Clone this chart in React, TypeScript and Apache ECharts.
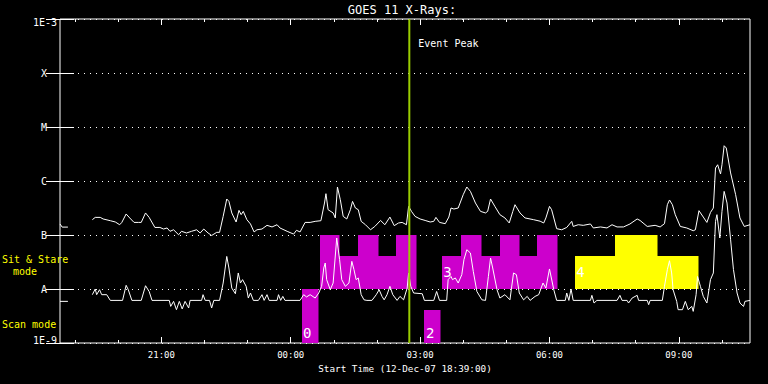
import React, { useEffect, useRef } from "react";
import * as echarts from "echarts";

const TITLE = "GOES 11 X-Rays:";
const X_NAME = "Start Time (12-Dec-07 18:39:00)";
const EVENT_LABEL = "Event Peak";
const yTickLabels = ["1E-9", "A", "B", "C", "M", "X", "1E-3"];
// minutes after 18:39
const majorTickMinutes = [141, 321, 501, 681, 861];
const majorTickLabels = ["21:00", "00:00", "03:00", "06:00", "09:00"];
const minorTickMinutes = [21, 81, 201, 261, 381, 441, 561, 621, 741, 801, 921];
const eventPeakMinute = 486;

const longStart = [[0, 1.6e-7], [3, 1.4e-7], [11, 1.4e-7]];
const longMain = [
  [45, 1.92e-7], [49, 2.12e-7], [56, 2.12e-7], [60, 1.98e-7], [70, 1.84e-7], [77, 1.74e-7], [83, 1.55e-7], [86, 1.71e-7],
  [92, 2.45e-7], [97, 2.07e-7], [103, 1.71e-7], [109, 1.71e-7], [113, 1.71e-7], [119, 2.56e-7], [124, 2.12e-7], [132, 1.38e-7],
  [139, 1.38e-7], [144, 1.29e-7], [149, 1.35e-7], [153, 1.17e-7], [158, 1.25e-7], [165, 1.01e-7], [169, 1.17e-7], [176, 1.09e-7],
  [183, 1.17e-7], [190, 1.25e-7], [195, 1.09e-7], [200, 1.29e-7], [206, 1.09e-7], [211, 9.8e-8], [218, 1.12e-7], [222, 1.12e-7],
  [227, 2.21e-7], [232, 4.64e-7], [235, 4.19e-7], [239, 2.56e-7], [245, 1.74e-7], [249, 2.86e-7], [252, 2.38e-7], [255, 2.74e-7],
  [260, 1.92e-7], [265, 1.6e-7], [270, 1.14e-7], [274, 1.25e-7], [281, 1.29e-7], [288, 1.51e-7], [295, 1.41e-7], [302, 1.55e-7],
  [306, 1.35e-7], [316, 1.17e-7], [325, 1.04e-7], [329, 1.22e-7], [334, 1.14e-7], [341, 1.71e-7], [348, 1.71e-7], [355, 1.79e-7],
  [363, 1.84e-7], [368, 3.91e-7], [370, 5.82e-7], [373, 2.94e-7], [380, 2.56e-7], [383, 2.07e-7], [386, 7.74e-7], [390, 4.5e-7],
  [394, 2.21e-7], [399, 1.98e-7], [404, 2.94e-7], [407, 4.19e-7], [411, 3.16e-7], [415, 2.94e-7], [419, 1.79e-7], [425, 1.55e-7],
  [432, 1.25e-7], [438, 1.44e-7], [446, 1.86e-7], [452, 1.55e-7], [459, 2.15e-7], [465, 1.49e-7], [471, 1.67e-7], [476, 1.71e-7],
  [482, 1.55e-7], [485, 3.39e-7], [489, 2.74e-7], [494, 2.21e-7], [501, 1.98e-7], [508, 1.86e-7], [515, 1.74e-7], [520, 1.79e-7],
  [523, 2.12e-7], [528, 1.71e-7], [536, 1.62e-7], [541, 2.15e-7], [544, 3.16e-7], [548, 3.03e-7], [554, 3.16e-7], [561, 5.58e-7],
  [566, 7.74e-7], [571, 6.42e-7], [578, 3.91e-7], [585, 2.74e-7], [592, 2.56e-7], [595, 2.74e-7], [599, 4.64e-7], [605, 3.39e-7],
  [612, 2.38e-7], [619, 2.07e-7], [625, 1.67e-7], [630, 2.74e-7], [633, 3.64e-7], [640, 2.56e-7], [647, 2.07e-7], [659, 1.92e-7],
  [668, 1.8e-7], [673, 1.67e-7], [676, 2.07e-7], [681, 3.39e-7], [684, 2.94e-7], [691, 1.31e-7], [698, 1.25e-7], [705, 1.38e-7],
  [712, 1.79e-7], [714, 1.44e-7], [721, 1.55e-7], [728, 1.51e-7], [738, 1.6e-7], [742, 1.35e-7], [752, 1.41e-7], [761, 1.35e-7],
  [768, 1.55e-7], [775, 1.41e-7], [784, 1.41e-7], [793, 1.6e-7], [803, 1.98e-7], [807, 1.86e-7], [817, 1.44e-7], [828, 1.51e-7],
  [835, 1.41e-7], [841, 1.62e-7], [845, 3.64e-7], [848, 4.45e-7], [852, 3.64e-7], [856, 2.38e-7], [863, 1.44e-7], [872, 1.35e-7],
  [881, 1.2e-7], [884, 1.25e-7], [889, 2.82e-7], [895, 2.15e-7], [900, 1.71e-7], [905, 2.62e-7], [909, 3.16e-7], [912, 1.74e-6],
  [915, 2.0e-6], [919, 1.35e-6], [921, 2.0e-6], [924, 4.5e-6], [927, 4.08e-6], [933, 1.41e-6], [940, 5.58e-7], [946, 2.07e-7],
  [952, 1.44e-7], [960, 1.55e-7],
];

const shortStart = [[0, 5.9e-9], [11, 5.9e-9]];
const shortMain = [
  [45, 7.85e-9], [49, 1.0e-8], [51, 7.85e-9], [55, 9.7e-9], [58, 7.85e-9], [65, 7.85e-9], [70, 6.15e-9], [87, 6.15e-9],
  [92, 1.17e-8], [95, 9.7e-9], [100, 6.15e-9], [113, 6.15e-9], [119, 1.15e-8], [124, 9.0e-9], [128, 6.15e-9], [152, 6.15e-9],
  [154, 4.76e-9], [158, 5.9e-9], [162, 4.14e-9], [166, 5.9e-9], [170, 4.27e-9], [174, 5.9e-9], [179, 4.45e-9], [181, 6.15e-9],
  [197, 6.15e-9], [199, 7.85e-9], [202, 6.15e-9], [208, 6.15e-9], [211, 4.45e-9], [214, 6.15e-9], [222, 6.15e-9], [227, 1.29e-8],
  [232, 4.01e-8], [235, 2.45e-8], [239, 1.04e-8], [244, 8.17e-9], [248, 1.98e-8], [251, 1.29e-8], [254, 1.49e-8], [259, 1.12e-8],
  [262, 6.8e-9], [265, 8.43e-9], [269, 6.15e-9], [276, 6.15e-9], [281, 7.85e-9], [284, 6.15e-9], [288, 7.85e-9], [291, 6.15e-9],
  [302, 6.15e-9], [304, 7.85e-9], [307, 6.15e-9], [310, 7.3e-9], [313, 6.15e-9], [334, 6.15e-9], [339, 7.85e-9], [343, 7.13e-9],
  [348, 7.85e-9], [355, 6.8e-9], [360, 8.43e-9], [364, 1.12e-8], [367, 2.45e-8], [369, 3.03e-8], [371, 1.49e-8], [376, 9.7e-9],
  [380, 1.29e-8], [385, 8.8e-8], [389, 3.49e-8], [392, 1.49e-8], [397, 1.12e-8], [402, 1.29e-8], [406, 3.25e-8], [409, 2.28e-8],
  [412, 1.49e-8], [415, 1.6e-8], [419, 7.85e-9], [423, 6.3e-9], [427, 6.15e-9], [434, 6.15e-9], [440, 7.85e-9], [444, 9.7e-9],
  [448, 7.3e-9], [451, 6.3e-9], [455, 7.85e-9], [459, 1.12e-8], [463, 7.85e-9], [469, 6.15e-9], [473, 7.3e-9], [478, 6.3e-9],
  [483, 1.04e-8], [485, 1.98e-8], [488, 1.12e-8], [492, 8.43e-9], [504, 8.17e-9], [507, 6.15e-9], [520, 6.15e-9], [524, 9.0e-9],
  [528, 6.15e-9], [538, 6.15e-9], [540, 1.49e-8], [544, 1.71e-8], [546, 1.49e-8], [550, 1.6e-8], [554, 1.29e-8], [559, 1.84e-8],
  [562, 3.49e-8], [566, 5.34e-8], [571, 4.64e-8], [575, 2.12e-8], [580, 9.0e-9], [587, 6.3e-9], [592, 6.15e-9], [596, 1.71e-8],
  [599, 3.75e-8], [602, 2.45e-8], [608, 9.7e-9], [612, 6.8e-9], [619, 7.85e-9], [626, 6.3e-9], [631, 1.98e-8], [635, 1.84e-8],
  [639, 8.43e-9], [645, 6.3e-9], [650, 7.3e-9], [654, 6.15e-9], [661, 7.3e-9], [666, 7.85e-9], [672, 1.29e-8], [676, 1.04e-8],
  [681, 2.35e-8], [687, 9.7e-9], [691, 6.15e-9], [703, 6.15e-9], [705, 8.43e-9], [708, 6.15e-9], [711, 1.0e-8], [714, 6.15e-9],
  [738, 6.15e-9], [740, 7.63e-9], [743, 5.5e-9], [747, 6.15e-9], [775, 6.15e-9], [779, 7.63e-9], [782, 6.15e-9], [789, 6.15e-9],
  [791, 5.5e-9], [796, 6.8e-9], [803, 7.63e-9], [805, 6.15e-9], [817, 6.15e-9], [819, 5.12e-9], [821, 6.15e-9], [838, 6.15e-9],
  [841, 1.12e-8], [845, 2.28e-8], [848, 3.34e-8], [851, 1.98e-8], [853, 9.7e-9], [858, 5.9e-9], [860, 4.14e-9], [866, 4.14e-9],
  [870, 5.9e-9], [874, 4.14e-9], [879, 4.76e-9], [881, 3.85e-9], [885, 7.85e-9], [887, 1.71e-8], [891, 1.12e-8], [895, 7.3e-9],
  [900, 5.5e-9], [905, 1.49e-8], [909, 1.98e-8], [912, 1.79e-7], [914, 2.38e-7], [918, 8.8e-8], [921, 2.74e-7], [924, 6.42e-7],
  [928, 3.91e-7], [933, 8.17e-8], [937, 2.28e-8], [942, 8.43e-9], [946, 5.5e-9], [951, 4.76e-9], [953, 5.9e-9], [960, 6.15e-9],
];

// [startMinute, endMinute, lowFlux, highFlux]
const scanBlocks = [
  [337, 359, 1e-9, 1e-8],
  [507, 529, 1e-9, 4.1e-9],
];
const sitStareMagenta = [
  [362, 388, 1e-8, 1e-7], [388, 415, 1e-8, 4.1e-8], [415, 443, 1e-8, 1e-7], [443, 468, 1e-8, 4.1e-8], [468, 495, 1e-8, 1e-7],
  [532, 558, 1e-8, 4.1e-8], [558, 586, 1e-8, 1e-7], [586, 612, 1e-8, 4.1e-8], [612, 639, 1e-8, 1e-7], [639, 664, 1e-8, 4.1e-8],
  [664, 692, 1e-8, 1e-7],
];
const sitStareYellow = [
  [717, 772, 1e-8, 4.1e-8], [772, 831, 1e-8, 1e-7], [831, 887, 1e-8, 4.1e-8],
];
const blockLabelText = ["0", "2", "3", "4"];
const blockLabelPos = [[344, 1.55e-9], [515, 1.55e-9], [539, 2.1e-8], [724, 2.1e-8]];

const FONT = "DejaVu Sans Mono";
const WHITE = "#ffffff";
const MAGENTA = "#cc00cc";
const YELLOW = "#ffff00";
const GREEN = "#99cc00";

function blockSeries(data: number[][], color: string) {
  return {
    type: "custom",
    data,
    z: 1,
    silent: true,
    encode: { x: [0, 1], y: [2, 3] },
    renderItem: (params: any, api: any) => {
      const a = api.coord([api.value(0), api.value(3)]);
      const b = api.coord([api.value(1), api.value(2)]);
      const x0 = Math.round(a[0]);
      const x1 = Math.round(b[0]);
      const y0 = Math.round(a[1]);
      const y1 = Math.round(b[1]);
      return {
        type: "rect",
        shape: { x: x0, y: y0, width: x1 - x0 + 0.5, height: y1 - y0 },
        style: { fill: color, stroke: null },
      };
    },
  };
}

function lineSeries(data: number[][]) {
  return {
    type: "line",
    data,
    z: 3,
    silent: true,
    showSymbol: false,
    symbol: "none",
    lineStyle: { color: WHITE, width: 1 },
  };
}

export default function App() {
  const ref = useRef<HTMLDivElement>(null);
  useEffect(() => {
    document.body.style.margin = "0";
    document.body.style.background = "#000";
    const chart = echarts.init(ref.current!, null, { renderer: "svg" });
    const tickStyle = { color: WHITE, width: 1 };
    const baseX = {
      type: "value",
      min: 0,
      max: 960,
      gridIndex: 0,
      splitLine: { show: false },
      axisLine: { show: false },
    };
    const baseY = {
      type: "log",
      logBase: 10,
      min: 1e-9,
      max: 1e-3,
      splitNumber: 6,
      axisLine: { show: false },
      axisTick: { show: true, inside: true, length: 14, lineStyle: tickStyle },
    };
    chart.setOption({
      animation: false,
      backgroundColor: "#000",
      grid: {
        left: 60,
        right: 18,
        top: 19,
        bottom: 41,
        show: true,
        borderColor: WHITE,
        borderWidth: 1,
        backgroundColor: "transparent",
        containLabel: false,
        outerBoundsMode: "none",
      },
      xAxis: [
        {
          ...baseX,
          position: "bottom",
          axisTick: { show: true, inside: true, length: 6, customValues: majorTickMinutes, lineStyle: tickStyle },
          axisLabel: {
            show: true,
            customValues: majorTickMinutes,
            formatter: (v: number) => majorTickLabels[majorTickMinutes.indexOf(Math.round(v))] ?? "",
            color: WHITE,
            fontFamily: FONT,
            fontSize: 9,
            margin: 7,
          },
          name: X_NAME,
          nameLocation: "middle",
          nameGap: 20,
          nameTextStyle: { color: WHITE, fontFamily: FONT, fontSize: 9.3 },
        },
        {
          ...baseX,
          position: "bottom",
          axisTick: { show: true, inside: true, length: 3, customValues: minorTickMinutes, lineStyle: tickStyle },
          axisLabel: { show: false },
        },
        {
          ...baseX,
          position: "top",
          axisTick: { show: true, inside: true, length: 6, customValues: majorTickMinutes, lineStyle: tickStyle },
          axisLabel: { show: false },
        },
        {
          ...baseX,
          position: "top",
          axisTick: { show: true, inside: true, length: 3, customValues: minorTickMinutes, lineStyle: tickStyle },
          axisLabel: { show: false },
        },
      ],
      yAxis: [
        {
          ...baseY,
          position: "left",
          axisLabel: {
            show: true,
            margin: 3,
            color: WHITE,
            fontFamily: FONT,
            fontSize: 10,
            formatter: (v: number) => {
              const i = Math.round(Math.log10(v)) + 9;
              const t = yTickLabels[i] ?? "";
              if (i === 6) return `{t|${t}}`;
              if (i === 0) return `{b|${t}}`;
              return t.length > 1 ? `{n|${t}}` : `{l|${t}}`;
            },
            rich: {
              n: { color: WHITE, fontFamily: FONT, fontSize: 10 },
              t: { color: WHITE, fontFamily: FONT, fontSize: 10, padding: [7, 0, 0, 0] },
              b: { color: WHITE, fontFamily: FONT, fontSize: 10, padding: [0, 0, 5, 0] },
              l: { color: WHITE, fontFamily: FONT, fontSize: 10, padding: [0, 10, 0, 0] },
            },
          },
          splitLine: { show: true, lineStyle: { color: WHITE, width: 1, type: [1, 5] } },
        },
        {
          ...baseY,
          position: "right",
          axisLabel: { show: false },
          splitLine: { show: false },
        },
      ],
      graphic: [
        {
          type: "text",
          x: 402,
          y: 10,
          style: { text: TITLE, fill: WHITE, font: `12px '${FONT}'`, align: "center", verticalAlign: "middle" },
        },
        {
          type: "text",
          x: 2,
          y: 259,
          style: { text: "Sit & Stare", fill: YELLOW, font: `10px '${FONT}'`, align: "left", verticalAlign: "middle" },
        },
        {
          type: "text",
          x: 13,
          y: 271,
          style: { text: "mode", fill: YELLOW, font: `10px '${FONT}'`, align: "left", verticalAlign: "middle" },
        },
        {
          type: "text",
          x: 2,
          y: 324,
          style: { text: "Scan mode", fill: YELLOW, font: `10px '${FONT}'`, align: "left", verticalAlign: "middle" },
        },
      ],
      series: [
        blockSeries(scanBlocks, MAGENTA),
        blockSeries(sitStareMagenta, MAGENTA),
        blockSeries(sitStareYellow, YELLOW),
        lineSeries(longStart),
        lineSeries(longMain),
        lineSeries(shortStart),
        lineSeries(shortMain),
        {
          type: "custom",
          data: blockLabelPos,
          z: 4,
          silent: true,
          encode: { x: 0, y: 1 },
          renderItem: (params: any, api: any) => {
            const p = api.coord([api.value(0), api.value(1)]);
            return {
              type: "text",
              x: p[0],
              y: p[1],
              style: {
                text: blockLabelText[params.dataIndex],
                fill: WHITE,
                font: `14px '${FONT}'`,
                align: "center",
                verticalAlign: "middle",
              },
            };
          },
        },
        {
          type: "custom",
          data: [[eventPeakMinute]],
          z: 10,
          silent: true,
          encode: { x: 0 },
          renderItem: (params: any, api: any) => {
            const top = api.coord([api.value(0), 1e-3]);
            const bot = api.coord([api.value(0), 1e-9]);
            return {
              type: "group",
              children: [
                {
                  type: "line",
                  shape: { x1: top[0], y1: top[1], x2: bot[0], y2: bot[1] },
                  style: { stroke: GREEN, lineWidth: 2 },
                },
                {
                  type: "text",
                  x: top[0] + 9,
                  y: top[1] + 24,
                  style: { text: EVENT_LABEL, fill: WHITE, font: `10px '${FONT}'`, align: "left", verticalAlign: "middle" },
                },
              ],
            };
          },
        },
      ],
    });
    return () => chart.dispose();
  }, []);
  return <div ref={ref} style={{ width: 768, height: 384, background: "#000" }} />;
}
